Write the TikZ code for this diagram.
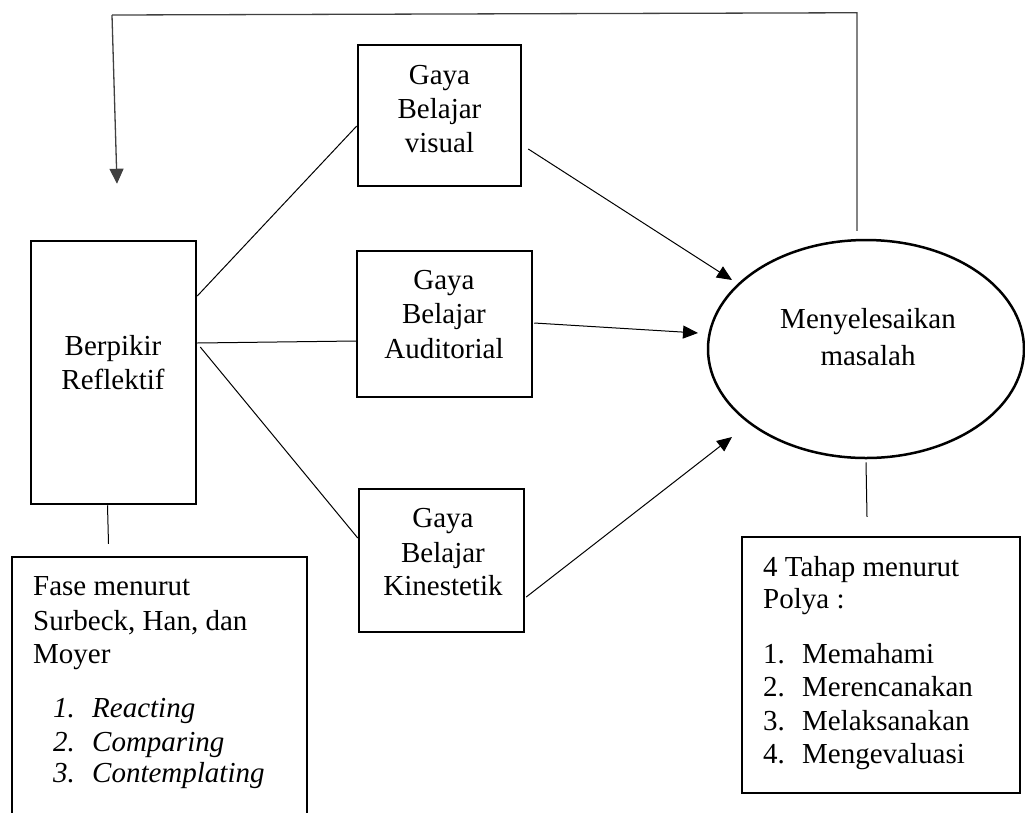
\documentclass[tikz,border=0pt]{standalone}
\usepackage{fontspec}
\setmainfont{Liberation Serif}
\usetikzlibrary{shapes.geometric,arrows.meta,calc}
\begin{document}
\begin{tikzpicture}[x=1pt,y=-1pt,
  box/.style={draw, line width=2.5pt, inner sep=0pt},
  conn/.style={line width=1pt},
  arr/.style={line width=1pt,-{Triangle[length=15pt,width=13pt]}},
  fb/.style={line width=1.3pt, draw=black!75},
  txt/.style={inner sep=0pt, anchor=base, font=\fontsize{29}{34}\selectfont},
  txtl/.style={inner sep=0pt, anchor=base west, font=\fontsize{29}{34}\selectfont},
  txti/.style={txtl, font=\fontsize{29}{34}\selectfont\itshape}]
\useasboundingbox (0,0) rectangle (1025,812);

% boxes
\node[box, minimum width=165pt, minimum height=263pt] (b) at (113.5,372.5) {};
\node[box, minimum width=163pt, minimum height=141pt] (v) at (439.5,115.5) {};
\node[box, minimum width=175pt, minimum height=146pt] (a) at (444.5,324) {};
\node[box, minimum width=165pt, minimum height=143pt] (k) at (441.5,560.5) {};
\node[draw, line width=2.5pt, ellipse, inner sep=0pt, minimum width=316pt, minimum height=218pt] (e) at (866,349) {};
\node[box, minimum width=295pt, minimum height=273pt] (f) at (159.5,693.5) {};
\node[box, minimum width=278pt, minimum height=256pt] (p) at (881,665) {};

% texts
\node[txt] (b1) at (113,355) {Berpikir};
\node[txt] (b2) at (113,389) {Reflektif};
\node[txt] (v1) at (439.5,84) {Gaya};
\node[txt] (v2) at (439.5,118) {Belajar};
\node[txt] (v3) at (439.5,152) {visual};
\node[txt] (a1) at (444,289) {Gaya};
\node[txt] (a2) at (444,323) {Belajar};
\node[txt] (a3) at (444,358) {Auditorial};
\node[txt] (k1) at (443,527) {Gaya};
\node[txt] (k2) at (443,562) {Belajar};
\node[txt] (k3) at (443,595) {Kinestetik};
\node[txt] (e1) at (868,328) {Menyelesaikan};
\node[txt] (e2) at (868,365) {masalah};

\node[txtl] (f1) at (33,595) {Fase menurut};
\node[txtl] (f2) at (33,630) {Surbeck, Han, dan};
\node[txtl] (f3) at (33,663) {Moyer};
\node[txti] (fn1) at (53,717) {1.};
\node[txti] (fi1) at (92,717) {Reacting};
\node[txti] (fn2) at (53,751) {2.};
\node[txti] (fi2) at (92,751) {Comparing};
\node[txti] (fn3) at (53,782) {3.};
\node[txti] (fi3) at (92,782) {Contemplating};

\node[txtl] (p1) at (763,576) {4 Tahap menurut};
\node[txtl] (p2) at (763,608) {Polya :};
\node[txtl] (pn1) at (763,663) {1.};
\node[txtl] (pi1) at (802,663) {Memahami};
\node[txtl] (pn2) at (763,696) {2.};
\node[txtl] (pi2) at (802,696) {Merencanakan};
\node[txtl] (pn3) at (763,730) {3.};
\node[txtl] (pi3) at (802,730) {Melaksanakan};
\node[txtl] (pn4) at (763,763) {4.};
\node[txtl] (pi4) at (802,763) {Mengevaluasi};

% connectors from Berpikir
\draw[conn] (b.east |- 0,296) -- (v.west |- 0,126);
\draw[conn] (b.east |- 0,343) -- (a.west |- 0,341);
\draw[conn] ($(b.east |- 0,347)+(3,0)$) -- (k.west |- 0,538);

% arrows to ellipse
\draw[arr] ($(v.east |- 0,149)+(6,0)$) -- ($(e.center)+(-134,-69)$);
\draw[arr] ($(a.east |- 0,323)+(1,0)$) -- ($(e.center)+(-168,-16)$);
\draw[arr] ($(k.east |- 0,597)+(1,0)$) -- ($(e.center)+(-134,88)$);

% stubs
\draw[conn] ($(e.south)+(0,3)$) -- ($(p.north)+(-14,-19)$);
\draw[conn] ($(b.south)+(-6,0)$) -- ($(f.north)+(-51,-12)$);

% feedback loop
\coordinate (fbs) at ($(e.north)+(-9,-8)$);
\coordinate (fbt) at ($(b.north)+(3.5,-56)$);
\draw[fb] (fbs) -- ($(e.north)+(-9,-226)$) -- (112,15);
\draw[fb,-{Triangle[length=15pt,width=14pt]}] (112,15) -- (fbt);
\end{tikzpicture}
\end{document}
